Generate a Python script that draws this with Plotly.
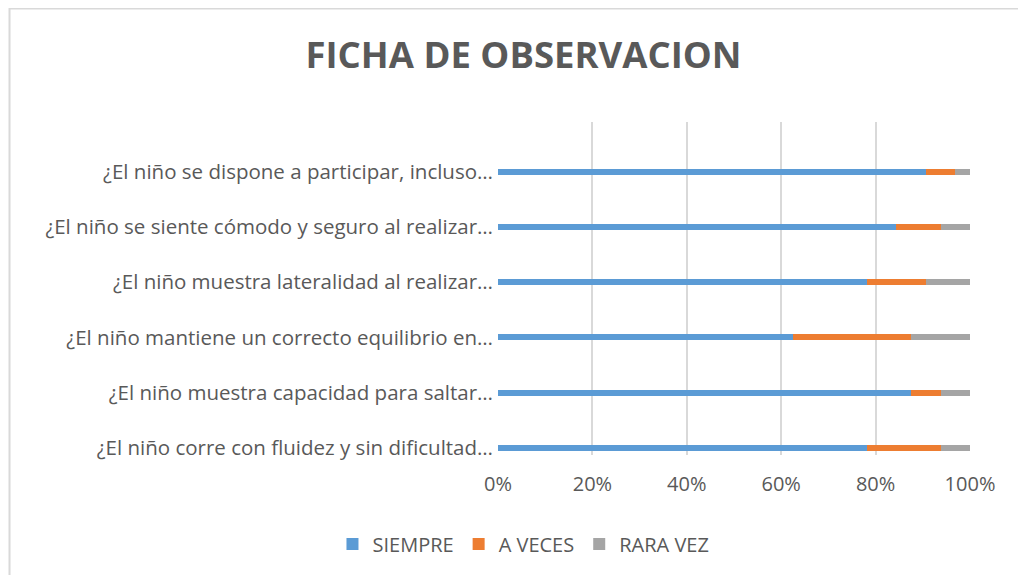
import plotly.graph_objects as go

categories = [
    "¿El niño corre con fluidez y sin dificultad…",
    "¿El niño muestra capacidad para saltar…",
    "¿El niño mantiene un correcto equilibrio en…",
    "¿El niño muestra lateralidad al realizar…",
    "¿El niño se siente cómodo y seguro al realizar…",
    "¿El niño se dispone a participar, incluso…",
]
siempre = [25, 28, 20, 25, 27, 29]
a_veces = [5, 2, 8, 4, 3, 2]
rara_vez = [2, 2, 4, 3, 2, 1]
tick_vals = [0, 20, 40, 60, 80, 100]
tick_text = ["0%", "20%", "40%", "60%", "80%", "100%"]

series = [
    ("SIEMPRE", siempre, "#5B9BD5"),
    ("A VECES", a_veces, "#ED7D31"),
    ("RARA VEZ", rara_vez, "#A5A5A5"),
]

FONT = "'Open Sans', Lato, sans-serif"
TXT = "#595959"

# page body has an 8px margin, so the figure is sized to fill the rest
W, H = 1018, 567
L, R, T, B = 489.5, 56, 114, 120
PW, PH = W - L - R, H - T - B

fig = go.Figure()
for name, vals, color in series:
    fig.add_trace(go.Bar(
        y=categories, x=vals, name=name, orientation="h",
        marker=dict(color=color, line=dict(width=0)),
        hoverinfo="skip",
    ))

cx = (515 - L) / PW  # horizontal centre of the chart, in paper units

fig.update_layout(
    width=W, height=H,
    barmode="stack", barnorm="percent", bargap=0.89,
    plot_bgcolor="white", paper_bgcolor="white",
    margin=dict(l=L, r=R, t=T, b=B, autoexpand=False),
    font=dict(family=FONT, color=TXT, size=20),
    title=dict(text="<b>FICHA DE OBSERVACION</b>", x=cx, xref="paper", xanchor="center",
               y=1 - 47 / H, yref="container", yanchor="middle",
               font=dict(family=FONT, size=36.5, color=TXT)),
    showlegend=True,
    legend=dict(orientation="h", x=cx, xanchor="center", y=-(536 - (T + PH)) / PH, yanchor="middle",
                font=dict(family=FONT, size=20, color=TXT), traceorder="normal",
                itemwidth=30),
    xaxis=dict(range=[0, 100], tickvals=tick_vals, ticktext=tick_text,
               showgrid=True, gridcolor="#D9D9D9", gridwidth=2, zeroline=False,
               showline=False, ticks="", ticklabelstandoff=15, tickfont=dict(size=20, color=TXT)),
    yaxis=dict(type="category", range=[-0.13, 5.9], showgrid=False, zeroline=False,
               showline=False, ticks="", ticklabelstandoff=4,
               tickfont=dict(size=20.5, color=TXT)),
    shapes=[dict(type="rect", xref="paper", yref="paper",
                 x0=(0.5 - L) / PW, x1=1.3, y0=-0.6, y1=1 + (T - 0.5) / PH,
                 line=dict(color="#D9D9D9", width=2), fillcolor="rgba(0,0,0,0)", layer="below")],
)

fig.write_html("out.html")
